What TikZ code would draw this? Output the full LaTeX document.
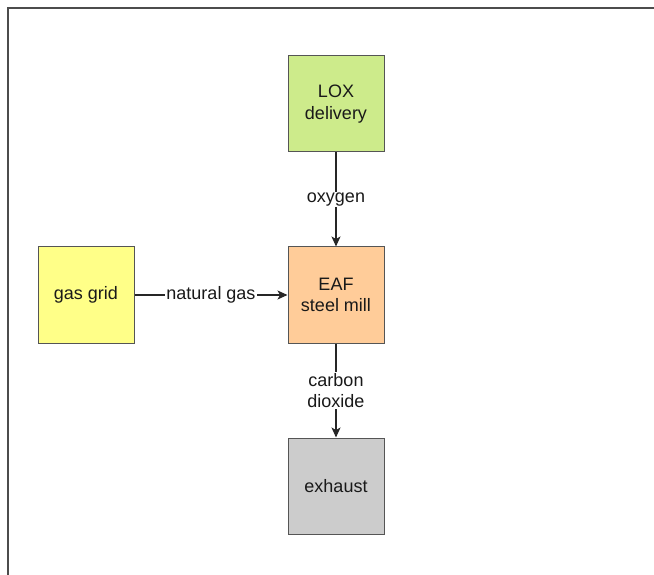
\documentclass[tikz,border=0pt]{standalone}
\usepackage{fontspec}
\setmainfont{Liberation Sans}
\usetikzlibrary{arrows.meta}
\definecolor{loxgreen}{HTML}{CDEB8B}
\definecolor{eafpeach}{HTML}{FFCC99}
\definecolor{gasyellow}{HTML}{FFFF88}
\definecolor{exhgray}{HTML}{CCCCCC}
\definecolor{edgegray}{HTML}{555555}
\tikzset{
  unit/.style={draw=edgegray, line width=1pt, minimum width=96pt, minimum height=96pt,
    inner sep=0pt, align=center, font=\fontsize{18}{21.5}\selectfont, text=black!90},
  flow/.style={draw=black!85, line width=1.1pt, -{Stealth[length=10pt,width=9pt,inset=2.5pt]}},
  flowlabel/.style={fill=white, inner sep=1pt, align=center,
    font=\fontsize{18}{21.5}\selectfont, text=black!90}
}
\begin{document}
\begin{tikzpicture}[x=1pt,y=-1pt]
  \useasboundingbox (0,0) rectangle (654,575);
  % frame (top and left edges)
  \draw[black!70, line width=2pt] (8.3,575) -- (8.3,8.5) -- (654,8.5);

  \node[unit, fill=loxgreen]  (lox)  at (336,104) {LOX\\delivery};
  \node[unit, fill=eafpeach]  (eaf)  at (336,295) {EAF\\steel mill};
  \node[unit, fill=gasyellow] (grid) at (86,295)  {gas grid};
  \node[unit, fill=exhgray]   (exh)  at (336,486) {exhaust};

  \draw[flow] (lox) -- node[flowlabel] {oxygen} (eaf);
  \draw[flow] (grid) -- node[flowlabel] {natural gas} (eaf);
  \draw[flow] (eaf) -- node[flowlabel] {carbon\\dioxide} (exh);
\end{tikzpicture}
\end{document}
